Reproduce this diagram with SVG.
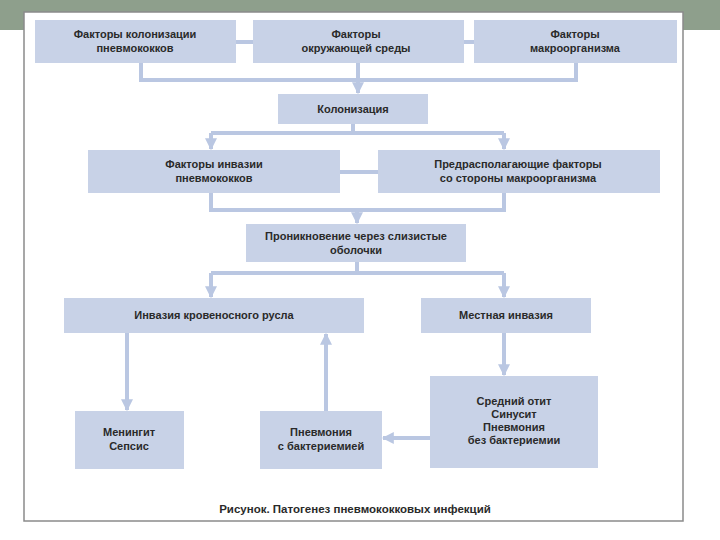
<svg xmlns="http://www.w3.org/2000/svg" width="720" height="540" viewBox="0 0 720 540">
<defs>
<style>
.box{fill:#c8d2e7;}
.t{font-family:"Liberation Sans",Arial,sans-serif;font-size:11px;font-weight:bold;fill:#2a2a2a;text-anchor:middle;}
.cap{font-size:11.5px;}
.c{fill:none;stroke:#bac7e2;stroke-width:4;}
</style>
<marker id="ah" viewBox="0 0 10 10" refX="9" refY="5" markerWidth="3" markerHeight="3" orient="auto" markerUnits="strokeWidth">
<path d="M0,0 L10,5 L0,10 z" fill="#bac7e2"/>
</marker>
</defs>
<rect x="0" y="0" width="720" height="540" fill="#ffffff"/>
<rect x="0" y="0" width="720" height="30" fill="#8e9f8c"/>
<rect x="24" y="12" width="659" height="509" fill="#ffffff" stroke="#8a8a8a" stroke-width="1.5"/>

<g id="connectors">
<path class="c" d="M236,42 H253 M464,42 H474"/>
<path class="c" d="M141,63 V80 H576 V63 M358,63 V80"/>
<path class="c" d="M358,80 V93" marker-end="url(#ah)"/>
<path class="c" d="M353,124 V133 M211,133 H504"/>
<path class="c" d="M211,133 V149" marker-end="url(#ah)"/>
<path class="c" d="M504,133 V149" marker-end="url(#ah)"/>
<path class="c" d="M340,172 H378"/>
<path class="c" d="M211,193 V210 H504 V193"/>
<path class="c" d="M357,210 V223" marker-end="url(#ah)"/>
<path class="c" d="M357,262 V273 M211,273 H504"/>
<path class="c" d="M211,273 V297" marker-end="url(#ah)"/>
<path class="c" d="M504,273 V297" marker-end="url(#ah)"/>
<path class="c" d="M127,333 V410" marker-end="url(#ah)"/>
<path class="c" d="M326,411 V334" marker-end="url(#ah)"/>
<path class="c" d="M504,333 V375" marker-end="url(#ah)"/>
<path class="c" d="M430,438 H383" marker-end="url(#ah)"/>
</g>

<g id="n1"><rect class="box" x="35" y="20" width="201" height="43"/><text class="t" x="135" y="38">Факторы колонизации</text><text class="t" x="135" y="52">пневмококков</text></g>
<g id="n2"><rect class="box" x="253" y="20" width="211" height="43"/><text class="t" x="356" y="38">Факторы</text><text class="t" x="356" y="52">окружающей среды</text></g>
<g id="n3"><rect class="box" x="474" y="20" width="203" height="43"/><text class="t" x="575" y="38">Факторы</text><text class="t" x="575" y="52">макроорганизма</text></g>
<g id="n4"><rect class="box" x="278" y="94" width="150" height="30"/><text class="t" x="353" y="113">Колонизация</text></g>
<g id="n5"><rect class="box" x="88" y="150" width="252" height="43"/><text class="t" x="214" y="168">Факторы инвазии</text><text class="t" x="214" y="182">пневмококков</text></g>
<g id="n6"><rect class="box" x="378" y="150" width="282" height="43"/><text class="t" x="518" y="168">Предрасполагающие факторы</text><text class="t" x="518" y="182">со стороны макроорганизма</text></g>
<g id="n7"><rect class="box" x="246" y="224" width="220" height="38"/><text class="t" x="356" y="240">Проникновение через слизистые</text><text class="t" x="356" y="254">оболочки</text></g>
<g id="n8"><rect class="box" x="64" y="298" width="300" height="35"/><text class="t" x="214" y="319">Инвазия кровеносного русла</text></g>
<g id="n9"><rect class="box" x="421" y="298" width="170" height="35"/><text class="t" x="506" y="319">Местная инвазия</text></g>
<g id="n10"><rect class="box" x="75" y="411" width="109" height="58"/><text class="t" x="129" y="436">Менингит</text><text class="t" x="129" y="450">Сепсис</text></g>
<g id="n11"><rect class="box" x="260" y="411" width="122" height="58"/><text class="t" x="321" y="436">Пневмония</text><text class="t" x="321" y="450">с бактериемией</text></g>
<g id="n12"><rect class="box" x="430" y="376" width="168" height="92"/><text class="t" x="514" y="405">Средний отит</text><text class="t" x="514" y="418">Синусит</text><text class="t" x="514" y="431">Пневмония</text><text class="t" x="514" y="444">без бактериемии</text></g>

<text class="t cap" x="355" y="513">Рисунок. Патогенез пневмококковых инфекций</text>
</svg>
